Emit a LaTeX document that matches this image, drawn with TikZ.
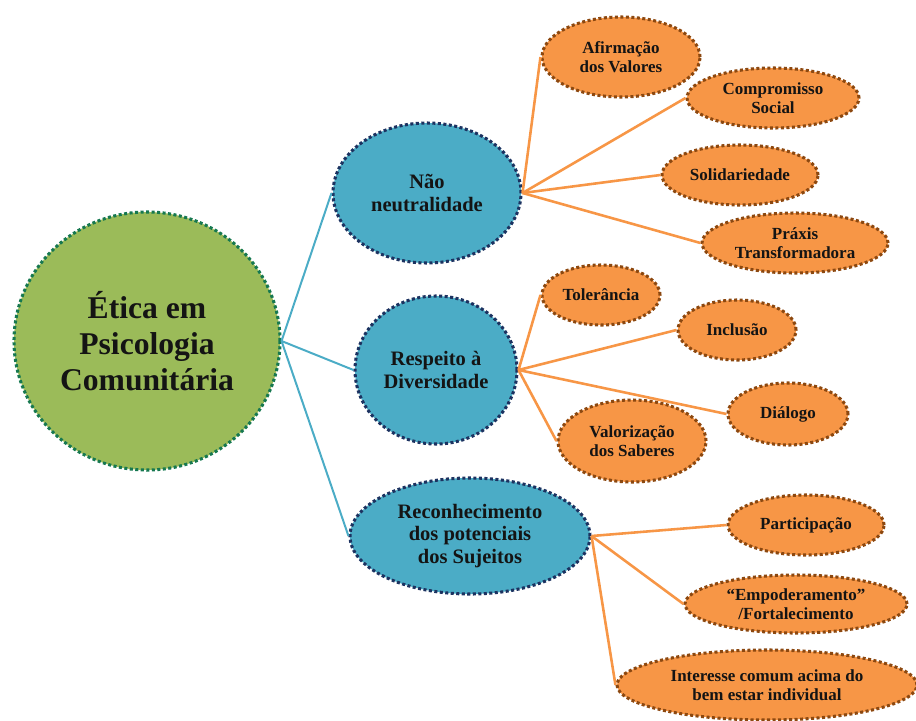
\documentclass[tikz,border=0pt]{standalone}
\usepackage{fontspec}
\setmainfont{Liberation Serif}
\usepackage{xcolor}
\usepackage{tikz}
\usetikzlibrary{shapes.geometric}
\definecolor{leaf}{RGB}{155,187,89}
\definecolor{leafline}{RGB}{22,120,80}
\definecolor{aqua}{RGB}{75,172,198}
\definecolor{aqualine}{RGB}{28,50,96}
\definecolor{peach}{RGB}{247,150,70}
\definecolor{peachline}{RGB}{140,72,16}
\definecolor{ink}{RGB}{20,20,20}
\tikzset{
  dots/.style={line width=2.6pt, dash pattern=on 2.6pt off 2.1pt},
  rootnode/.style={ellipse, dots, draw=leafline, fill=leaf, inner sep=0pt,
    align=center, text=ink, font=\fontsize{27}{31}\selectfont\bfseries},
  themenode/.style={ellipse, dots, draw=aqualine, fill=aqua, inner sep=0pt,
    align=center, text=ink, font=\fontsize{17.5}{19}\selectfont\bfseries},
  leafnode/.style={ellipse, dots, draw=peachline, fill=peach, inner sep=0pt,
    align=center, text=ink, font=\fontsize{14.5}{16}\selectfont\bfseries},
  bluelink/.style={draw=aqua, line width=1.7pt},
  orangelink/.style={draw=peach, line width=2.2pt}
}

\begin{document}
\begin{tikzpicture}[x=0.03cm, y=-0.03cm]
\useasboundingbox (0,0) rectangle (916,720);

% centre
\node[rootnode, minimum width=7.98cm, minimum height=7.74cm] (etica) at (147,341) {\'Etica em\\Psicologia\\Comunit\'aria};

% three themes
\node[themenode, minimum width=5.64cm, minimum height=4.2cm] (neutro) at (427,193) {N\~ao\\neutralidade};
\node[themenode, minimum width=4.86cm, minimum height=4.44cm] (respeito) at (436,370) {Respeito \`a\\Diversidade};
\node[themenode, minimum width=7.2cm, minimum height=3.48cm] (reconh) at (470,536) {Reconhecimento\\dos potenciais\\dos Sujeitos};

% leaves of Nao neutralidade
\node[leafnode, minimum width=4.74cm, minimum height=2.4cm] (afirm) at (621,57) {Afirma\c{c}\~ao\\dos Valores};
\node[leafnode, minimum width=5.16cm, minimum height=1.8cm] (comprom) at (773,98) {Compromisso\\Social};
\node[leafnode, minimum width=4.68cm, minimum height=1.8cm] (solid) at (740,175) {Solidariedade};
\node[leafnode, minimum width=5.58cm, minimum height=1.8cm] (praxis) at (795,243) {Pr\'axis\\Transformadora};

% leaves of Respeito
\node[leafnode, minimum width=3.54cm, minimum height=1.8cm] (toler) at (601,295) {Toler\^ancia};
\node[leafnode, minimum width=3.54cm, minimum height=1.8cm] (inclus) at (737,330) {Inclus\~ao};
\node[leafnode, minimum width=3.6cm, minimum height=1.86cm] (dialogo) at (788,414) {Di\'alogo};
\node[leafnode, minimum width=4.44cm, minimum height=2.46cm] (valor) at (632,441) {Valoriza\c{c}\~ao\\dos Saberes};

% leaves of Reconhecimento
\node[leafnode, minimum width=4.68cm, minimum height=1.8cm] (partic) at (806,525) {Participa\c{c}\~ao};
\node[leafnode, minimum width=6.66cm, minimum height=1.74cm] (empod) at (796,604) {``Empoderamento''\\/Fortalecimento};
\node[leafnode, minimum width=9cm, minimum height=2.1cm] (interesse) at (767,685) {Interesse comum acima do\\bem estar individual};

\draw[bluelink] (etica.east)--(neutro.west);
\draw[bluelink] (etica.east)--(respeito.west);
\draw[bluelink] (etica.east)--(reconh.west);

\draw[orangelink] (neutro.east)--(afirm.west);
\draw[orangelink] (neutro.east)--(comprom.west);
\draw[orangelink] (neutro.east)--(solid.west);
\draw[orangelink] (neutro.east)--(praxis.west);

\draw[orangelink] (respeito.east)--(toler.west);
\draw[orangelink] (respeito.east)--(inclus.west);
\draw[orangelink] (respeito.east)--(dialogo.west);
\draw[orangelink] (respeito.east)--(valor.west);

\draw[orangelink] (reconh.east)--(partic.west);
\draw[orangelink] (reconh.east)--(empod.west);
\draw[orangelink] (reconh.east)--(interesse.west);
\end{tikzpicture}
\end{document}
